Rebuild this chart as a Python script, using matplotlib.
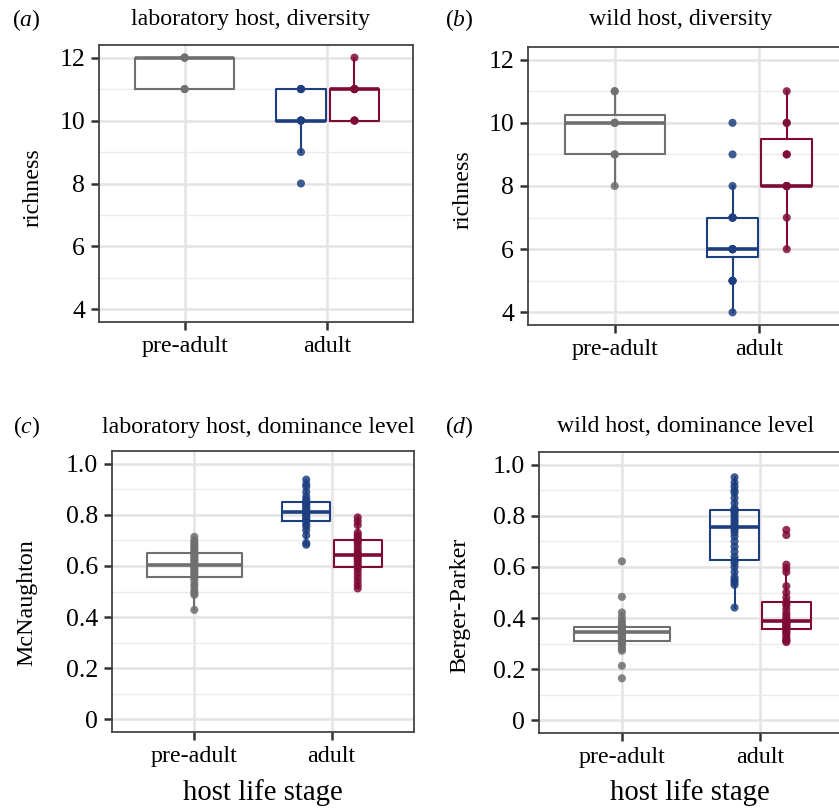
import matplotlib
matplotlib.use("Agg")
import matplotlib.pyplot as plt
import numpy as np

plt.rcParams['font.family'] = ['Liberation Serif', 'DejaVu Serif']
plt.rcParams['mathtext.fontset'] = 'custom'
plt.rcParams['mathtext.it'] = 'Liberation Serif:italic'
plt.rcParams['mathtext.rm'] = 'Liberation Serif'

# ---- data ----
stages = ['pre-adult', 'adult']

# (a) laboratory host, richness
lab_rich_pre = [11, 11, 12, 12, 12]
lab_rich_adult_blue = [8, 9, 10, 10, 10, 10, 11, 11, 11]
lab_rich_adult_red = [10, 10, 10, 11, 11, 11, 11, 12]

# (b) wild host, richness
wild_rich_pre = [8, 9, 9, 10, 10, 10, 11, 11]
wild_rich_adult_blue = [4, 5, 5, 5, 6, 6, 6, 6, 6, 7, 7, 7, 7, 8, 9, 10]
wild_rich_adult_red = [6, 7, 8, 8, 8, 8, 9, 9, 10, 10, 11]

# (c) laboratory host, McNaughton dominance
lab_dom_pre = [0.428, 0.487, 0.495, 0.505, 0.52, 0.53, 0.545, 0.555, 0.565, 0.572,
               0.58, 0.588, 0.595, 0.60, 0.605, 0.61, 0.618, 0.625, 0.632, 0.64,
               0.646, 0.652, 0.66, 0.668, 0.675, 0.683, 0.692, 0.70, 0.714]
lab_dom_adult_blue = [0.683, 0.69, 0.72, 0.74, 0.755, 0.765, 0.777, 0.785, 0.79, 0.797,
                      0.803, 0.808, 0.812, 0.818, 0.825, 0.832, 0.84, 0.846, 0.851,
                      0.86, 0.872, 0.89, 0.91, 0.92, 0.938]
lab_dom_adult_red = [0.512, 0.525, 0.54, 0.555, 0.57, 0.585, 0.596, 0.605, 0.615, 0.625,
                     0.632, 0.638, 0.644, 0.65, 0.66, 0.672, 0.685, 0.695, 0.703,
                     0.71, 0.72, 0.73, 0.76, 0.775, 0.79]

# (d) wild host, Berger-Parker dominance
wild_dom_pre = [0.164, 0.213, 0.272, 0.28, 0.29, 0.298, 0.305, 0.312, 0.318, 0.322,
                0.328, 0.332, 0.337, 0.34, 0.344, 0.347, 0.35, 0.353, 0.357, 0.36,
                0.363, 0.365, 0.37, 0.38, 0.39, 0.405, 0.422, 0.483, 0.622]
wild_dom_adult_blue = [0.441, 0.53, 0.54, 0.55, 0.56, 0.58, 0.60, 0.615, 0.626, 0.64,
                       0.66, 0.68, 0.70, 0.72, 0.735, 0.745, 0.755, 0.76, 0.77, 0.78,
                       0.79, 0.80, 0.81, 0.818, 0.823, 0.83, 0.85, 0.87, 0.89, 0.90,
                       0.915, 0.93, 0.951]
wild_dom_adult_red = [0.306, 0.31, 0.315, 0.32, 0.33, 0.34, 0.345, 0.352, 0.359, 0.362,
                      0.366, 0.37, 0.374, 0.378, 0.381, 0.384, 0.387, 0.392, 0.40,
                      0.41, 0.42, 0.435, 0.45, 0.458, 0.464, 0.48, 0.50, 0.525, 0.58,
                      0.595, 0.609, 0.725, 0.745]

GRAY = '#6f6f6f'
BLUE = '#1d3f80'
RED = '#7f0a36'

W, H = 839, 809
fig = plt.figure(figsize=(W / 100, H / 100), dpi=100)


def px_axes(left, top, right, bottom):
    return fig.add_axes([left / W, 1 - bottom / H, (right - left) / W, (bottom - top) / H])


def box(ax, vals, pos, width, color):
    ax.boxplot(vals, positions=[pos], widths=width, showfliers=False, showcaps=False,
               boxprops=dict(color=color, linewidth=1.5),
               whiskerprops=dict(color=color, linewidth=1.5),
               medianprops=dict(color=color, linewidth=2.6))
    ax.scatter(np.full(len(vals), pos), vals, s=34, color=color, alpha=0.85,
               edgecolors='none', zorder=5)


def panel(ax, pre, blue, red, ylim, yticks, ylabels, minor):
    box(ax, pre, 1, 0.69, GRAY)
    box(ax, blue, 1.815, 0.35, BLUE)
    box(ax, red, 2.19, 0.35, RED)
    ax.set_xlim(0.4, 2.6)
    ax.set_ylim(*ylim)
    ax.set_xticks([1, 2])
    ax.set_xticklabels(stages, fontsize=17.3)
    ax.set_yticks(yticks)
    ax.set_yticklabels(ylabels, fontsize=18.5)
    ax.set_yticks(minor, minor=True)
    ax.tick_params(axis='both', which='major', length=6, width=1.8, color='#333333', pad=4)
    ax.tick_params(axis='y', which='minor', length=0)
    ax.grid(True, which='major', color='#e4e4e4', linewidth=1.8)
    ax.grid(True, which='minor', axis='y', color='#ebebeb', linewidth=1.0)
    ax.set_axisbelow(True)
    for sp in ax.spines.values():
        sp.set_color('#444444')
        sp.set_linewidth(1.3)


ax_a = px_axes(99, 45, 413, 322)
panel(ax_a, lab_rich_pre, lab_rich_adult_blue, lab_rich_adult_red,
      (3.6, 12.4), [4, 6, 8, 10, 12], ['4', '6', '8', '10', '12'], [5, 7, 9, 11])
ax_b = px_axes(528, 47, 846, 325)
panel(ax_b, wild_rich_pre, wild_rich_adult_blue, wild_rich_adult_red,
      (3.6, 12.4), [4, 6, 8, 10, 12], ['4', '6', '8', '10', '12'], [5, 7, 9, 11])
ax_c = px_axes(112, 451, 414, 732)
panel(ax_c, lab_dom_pre, lab_dom_adult_blue, lab_dom_adult_red,
      (-0.05, 1.05), [0, 0.2, 0.4, 0.6, 0.8, 1.0], ['0', '0.2', '0.4', '0.6', '0.8', '1.0'],
      [0.1, 0.3, 0.5, 0.7, 0.9])
ax_d = px_axes(539, 452, 843, 733)
panel(ax_d, wild_dom_pre, wild_dom_adult_blue, wild_dom_adult_red,
      (-0.05, 1.05), [0, 0.2, 0.4, 0.6, 0.8, 1.0], ['0', '0.2', '0.4', '0.6', '0.8', '1.0'],
      [0.1, 0.3, 0.5, 0.7, 0.9])


def ftext(x, y, s, **kw):
    fig.text(x / W, 1 - y / H, s, ha='center', va='center', **kw)


ftext(26, 20, r'($\it{a}$)', fontsize=17)
ftext(459, 20, r'($\it{b}$)', fontsize=17)
ftext(27, 427, r'($\it{c}$)', fontsize=17)
ftext(459, 427, r'($\it{d}$)', fontsize=17)
ftext(251, 20, 'laboratory host, diversity', fontsize=17.2)
ftext(681, 20, 'wild host, diversity', fontsize=17.2)
ftext(258, 427, 'laboratory host, dominance level', fontsize=17.2)
ftext(686, 427, 'wild host, dominance level', fontsize=17.2)
ftext(33, 188, 'richness', fontsize=17.3, rotation=90)
ftext(463, 190, 'richness', fontsize=17.3, rotation=90)
ftext(27, 603, 'McNaughton', fontsize=17.3, rotation=90)
ftext(460, 605, 'Berger-Parker', fontsize=17.3, rotation=90)
ftext(263, 793, 'host life stage', fontsize=20.7)
ftext(690, 793, 'host life stage', fontsize=20.7)

fig.savefig('out.png', dpi=100)
